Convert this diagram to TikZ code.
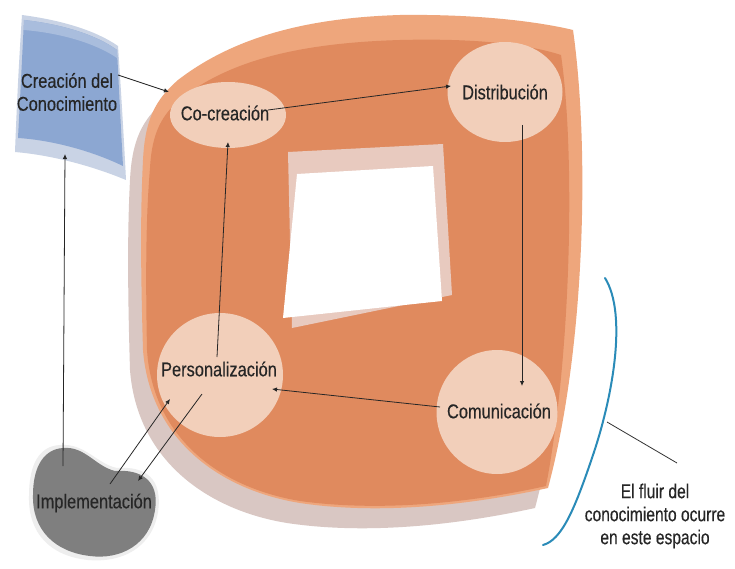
\documentclass[tikz,border=0pt]{standalone}
\usepackage{fontspec}
\setmainfont{Liberation Sans}
\newfontfamily\labfont[FakeBold=0.35]{Liberation Sans}
\usepackage{graphicx}
\usetikzlibrary{shapes.geometric,arrows.meta}
\definecolor{orlight}{HTML}{EEA67C}
\definecolor{ordark}{HTML}{E08A5E}
\definecolor{shad}{HTML}{D9C7C3}
\definecolor{peach}{HTML}{F2CFBA}
\definecolor{holeb}{HTML}{E8CABF}
\definecolor{bluemain}{HTML}{8CA7D2}
\definecolor{bluetop}{HTML}{A9BDDD}
\definecolor{blueshad}{HTML}{C9D3E5}
\definecolor{blobgray}{HTML}{7F7F7F}
\definecolor{halo}{HTML}{EEEEEE}
\definecolor{teal}{HTML}{2A8BB8}
\definecolor{ink}{HTML}{262626}
\newcommand\nt[1]{\scalebox{0.82}[1]{#1}}
\newcommand\ntt[1]{\scalebox{0.78}[1]{#1}}
\begin{document}
\begin{tikzpicture}[x=1pt,y=-1pt,
  bub/.style={ellipse, fill=peach, inner sep=0pt},
  txt/.style={text=ink, font=\labfont\fontsize{20}{23}\selectfont, inner sep=0pt, align=center},
  arr/.style={draw=black!85, line width=0.8pt, -{Latex[length=5pt,width=4.5pt]}},
  plain/.style={draw=black!80, line width=0.8pt}]
\useasboundingbox (0,0) rectangle (735,569);
\fill[white] (0,0) rectangle (735,569);

% ---- main ring: shadow, light outer, dark inner
\begin{scope}[shift={(-13,20)}]
\fill[shad] (143,160) .. controls (145,120) and (155,100) .. (178,80)
  .. controls (230,40) and (300,18) .. (400,15)
  .. controls (480,14) and (540,22) .. (573,30)
  .. controls (590,150) and (585,350) .. (548,488)
  .. controls (470,505) and (380,515) .. (300,503)
  .. controls (220,490) and (150,440) .. (143,350)
  .. controls (140,250) and (141,200) .. (143,160) -- cycle;
\end{scope}
\fill[orlight] (143,160) .. controls (145,120) and (155,100) .. (178,80)
  .. controls (230,40) and (300,18) .. (400,15)
  .. controls (480,14) and (540,22) .. (573,30)
  .. controls (590,150) and (585,350) .. (548,488)
  .. controls (470,505) and (380,515) .. (300,503)
  .. controls (220,490) and (150,440) .. (143,350)
  .. controls (140,250) and (141,200) .. (143,160) -- cycle;
\fill[ordark] (150,168) .. controls (152,132) and (162,114) .. (183,97)
  .. controls (232,60) and (300,43) .. (400,40)
  .. controls (480,38) and (530,45) .. (561,55)
  .. controls (575,150) and (572,350) .. (546,486)
  .. controls (470,503) and (380,512) .. (300,501)
  .. controls (222,488) and (153,440) .. (147,350)
  .. controls (145,250) and (147,205) .. (150,168) -- cycle;

% ---- hole
\fill[holeb] (288,152) -- (443,144) -- (452,295) -- (292,328) -- cycle;
\fill[white] (297,174) -- (433,166) -- (442,301) -- (283,318) -- cycle;

% ---- blue box
\fill[blueshad] (22,15) .. controls (60,20) and (95,30) .. (118,46)
  .. controls (121,90) and (124,140) .. (126,180)
  .. controls (90,165) and (50,155) .. (15,152)
  .. controls (17,100) and (19,60) .. (22,15) -- cycle;
\fill[bluemain] (24,20) .. controls (60,24) and (95,34) .. (117,50)
  .. controls (119,90) and (121,130) .. (123,166)
  .. controls (90,150) and (50,140) .. (18,138)
  .. controls (20,100) and (22,60) .. (24,20) -- cycle;
\fill[bluetop] (24,20) .. controls (60,24) and (95,34) .. (117,50)
  -- (117,58) .. controls (95,43) and (60,33) .. (24,30) -- cycle;

% ---- implementation blob
\fill[halo] (60,445) .. controls (85,443) and (97,464) .. (117,468)
  .. controls (145,466) and (163,478) .. (158,512)
  .. controls (152,548) and (122,563) .. (88,560)
  .. controls (50,556) and (28,533) .. (29,496)
  .. controls (29,463) and (40,446) .. (60,445) -- cycle;
\fill[blobgray] (63,448) .. controls (85,446) and (95,466) .. (115,471)
  .. controls (140,469) and (160,480) .. (155,510)
  .. controls (150,545) and (120,560) .. (90,556)
  .. controls (55,552) and (32,530) .. (33,495)
  .. controls (33,465) and (45,449) .. (63,448) -- cycle;

% ---- nodes
\node[bub, minimum width=116, minimum height=66] (cocrea) at (228,115) {};
\node[bub, minimum width=115, minimum height=100] (distri) at (505,92) {};
\node[bub, minimum width=126, minimum height=124] (perso) at (220,375) {};
\node[bub, minimum width=121, minimum height=124] (comun) at (497,412) {};
\node[txt] (cocreatxt) at (225,113) {\nt{Co-creación}};
\node[txt] (distritxt) at (505,92) {\nt{Distribución}};
\node[txt] (persotxt) at (219,369) {\nt{Personalización}};
\node[txt] (comuntxt) at (499,411) {\nt{Comunicación}};
\node[txt] (crea) at (67,92) {\nt{Creación del}\\\nt{Conocimiento}};
\node[txt] (impl) at (94,503) {\nt{Implementación}};
\node[txt] (flujo) at (655,516) {\ntt{El fluir del}\\\ntt{conocimiento ocurre}\\\ntt{en este espacio}};

% ---- connector end points
\coordinate (c1s) at (118,75);  \coordinate (c1e) at (169,92);
\coordinate (c2s) at (268,110); \coordinate (c2e) at (451,86);
\coordinate (c3s) at (522,125); \coordinate (c3e) at (522,386);
\coordinate (c4s) at (440,407); \coordinate (c4e) at (272,389);
\coordinate (c5s) at (217,357); \coordinate (c5e) at (228,142);
\coordinate (c6s) at (63,466);  \coordinate (c6e) at (65,154);
\coordinate (c7s) at (110,484); \coordinate (c7e) at (170,399);
\coordinate (c8s) at (202,394); \coordinate (c8e) at (138,481);

\draw[arr] (c1s) -- (c1e);
\draw[arr] (c2s) -- (c2e);
\draw[arr] (c3s) -- (c3e);
\draw[arr] (c4s) -- (c4e);
\draw[arr] (c5s) -- (c5e);
\draw[arr] (c6s) -- (c6e);
\draw[arr] (c7s) -- (c7e);
\draw[arr] (c8s) -- (c8e);

% ---- bracket curve and pointer
\coordinate (brt) at (605,278);
\coordinate (brb) at (543,545);
\coordinate (brp) at (607,422);
\draw[teal, line width=2pt, line cap=round] (brt) .. controls (628,315) and (612,400) .. (592,458)
  .. controls (575,508) and (562,540) .. (brb);
\coordinate (lbl) at (677,463);
\draw[plain] (brp) -- (lbl);
\end{tikzpicture}
\end{document}
